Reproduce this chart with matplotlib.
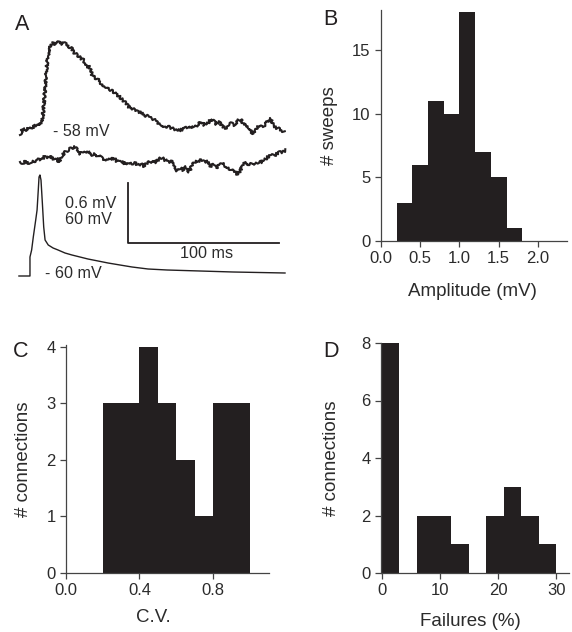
import matplotlib
matplotlib.use("Agg")
import matplotlib.pyplot as plt

plt.rcParams['font.family'] = ['Liberation Sans', 'DejaVu Sans']

# ---- Panel A: example traces (time in ms, voltage in mV) ----
# EPSP sweep, mV relative to -58 mV baseline
epsp_t = [0, 2, 4, 6, 8, 10, 12, 14, 15, 16, 17, 18, 19, 20, 22, 24, 26, 28,
          30, 32, 34, 36, 38, 40, 42, 44, 46, 48, 50, 52, 54, 56, 58, 60, 62,
          64, 66, 68, 70, 72, 74, 76, 78, 80, 82, 84, 86, 88, 90, 92, 94, 96,
          98, 100, 102, 104, 106, 108, 110, 112, 114, 116, 118, 120, 122, 124,
          126, 128, 130, 132, 134, 136, 138, 140, 142, 144, 146, 148, 150, 152,
          154, 156, 158, 160, 162, 164, 166, 168, 170, 172, 174, 175]
epsp_mv = [-0.02, 0.05, 0.02, 0.06, 0.04, 0.08, 0.07, 0.10, 0.15, 0.33, 0.53,
           0.71, 0.81, 0.86, 0.90, 0.89, 0.92, 0.89, 0.90, 0.86, 0.85, 0.80,
           0.78, 0.75, 0.73, 0.67, 0.66, 0.57, 0.55, 0.53, 0.49, 0.47, 0.45,
           0.43, 0.41, 0.38, 0.36, 0.33, 0.30, 0.26, 0.25, 0.23, 0.21, 0.21,
           0.18, 0.17, 0.15, 0.14, 0.12, 0.09, 0.08, 0.06, 0.07, 0.05, 0.04,
           0.02, 0.03, 0.04, 0.06, 0.05, 0.07, 0.06, 0.09, 0.11, 0.08, 0.09,
           0.13, 0.12, 0.09, 0.11, 0.07, 0.05, 0.07, 0.10, 0.08, 0.12, 0.14,
           0.09, 0.07, 0.05, -0.01, 0.04, 0.07, 0.06, 0.08, 0.12, 0.14, 0.07,
           0.05, 0.04, 0.02, 0.01]

# failure sweep, mV relative to its own baseline
fail_t = [0, 2, 4, 6, 8, 10, 12, 14, 16, 18, 20, 22, 24, 26, 28, 30, 32, 34,
          36, 38, 40, 42, 44, 46, 48, 50, 52, 54, 56, 58, 60, 62, 64, 66, 68,
          70, 72, 74, 76, 78, 80, 82, 84, 86, 88, 90, 92, 94, 96, 98, 100, 102,
          104, 106, 108, 110, 112, 114, 116, 118, 120, 122, 124, 126, 128, 130,
          132, 134, 136, 138, 140, 142, 144, 146, 148, 150, 152, 154, 156, 158,
          160, 162, 164, 166, 168, 170, 172, 174, 176]
fail_mv = [-0.02, -0.03, -0.01, -0.04, -0.02, -0.01, 0.01, 0.00, 0.03, 0.02,
           0.04, 0.01, 0.02, -0.02, 0.05, 0.08, 0.10, 0.12, 0.13, 0.11, 0.06,
           0.09, 0.07, 0.08, 0.05, 0.06, 0.03, 0.04, 0.00, 0.01, 0.00, 0.02,
           -0.01, -0.02, -0.01, -0.05, -0.03, -0.04, -0.03, -0.05, -0.04, -0.06,
           -0.03, -0.02, -0.01, -0.02, 0.01, 0.02, 0.00, -0.02, -0.01, -0.04,
           -0.11, -0.08, -0.10, -0.07, -0.12, -0.05, -0.02, -0.01, 0.00, -0.02,
           -0.01, -0.06, -0.05, -0.08, -0.05, -0.03, -0.06, -0.08, -0.10, -0.11,
           -0.15, -0.10, -0.03, -0.03, -0.05, -0.03, -0.04, -0.02, -0.02, 0.00,
           0.03, 0.05, 0.04, 0.06, 0.08, 0.08, 0.10]

# presynaptic action potential, absolute mV
ap_t = [-0.7, 6.6, 6.6, 7.7, 8.8, 10.4, 11.3, 12.1, 12.6, 13.2, 13.9, 14.8,
        15.7, 16.6, 18.7, 21.9, 25.2, 29.8, 34.4, 39.7, 45.0, 51.7, 58.3, 66.2,
        74.2, 84.8, 97.4, 119.2, 141.1, 175.5]
ap_mv = [-60, -60, -41, -34, -21, -4, 6, 26, 39, 41, 36, 13, -11, -24, -29, -32,
         -34, -37, -39, -41, -43, -45, -47, -49, -51, -53, -54, -55, -56, -57]

# ---- Panels B-D: histograms ----
amp_edges = [0.2, 0.4, 0.6, 0.8, 1.0, 1.2, 1.4, 1.6, 1.8]
amp_counts = [3, 6, 11, 10, 18, 7, 5, 1]

cv_edges = [0.2, 0.3, 0.4, 0.5, 0.6, 0.7, 0.8, 0.9, 1.0]
cv_counts = [3, 3, 4, 3, 2, 1, 3, 3]

fail_edges = [0, 3, 6, 9, 12, 15, 18, 21, 24, 27, 30]
fail_counts = [8, 0, 2, 2, 1, 0, 2, 3, 2, 1]

INK = '#231f20'
TXT = '#2b2b2b'
W, H = 572, 632
fig = plt.figure(figsize=(W / 100, H / 100), dpi=100)


def px_axes(left, top, right, bottom):
    return fig.add_axes([left / W, 1 - bottom / H, (right - left) / W, (bottom - top) / H])


# Panel A
axA = px_axes(0, 0, 290, 290)
axA.set_xlim(-13.25, 178.8)
axA.set_ylim(-1.57, 1.33)
axA.axis('off')
# recording noise drawn as a sketch style on the two sweeps
for t, v in [(epsp_t, epsp_mv), (fail_t, [x - 0.27 for x in fail_mv])]:
    ln, = axA.plot(t, v, color=INK, lw=1.5)
    ln.set_sketch_params(scale=1.3, length=2.5, randomness=3)
axA.plot(ap_t, [-1.43 + (v + 60) / 100 for v in ap_mv], color=INK, lw=1.0)
axA.plot([71.5, 71.5, 171.5], [-0.50, -1.10, -1.10], color=INK, lw=1.3)
ts = 11.6
axA.text(21.9, 0.02, '- 58 mV', fontsize=ts, color=TXT, va='center')
axA.text(29.8, -0.70, '0.6 mV', fontsize=ts, color=TXT, va='center')
axA.text(29.8, -0.86, '60 mV', fontsize=ts, color=TXT, va='center')
axA.text(123.8, -1.20, '100 ms', fontsize=ts, color=TXT, va='center', ha='center')
axA.text(16.6, -1.41, '- 60 mV', fontsize=ts, color=TXT, va='center')


def style(ax):
    for s in ['top', 'right']:
        ax.spines[s].set_visible(False)
    for s in ['left', 'bottom']:
        ax.spines[s].set_color('#444444')
        ax.spines[s].set_linewidth(0.9)
    ax.tick_params(direction='out', length=4.5, width=0.9, color='#444444',
                   labelsize=12, labelcolor=TXT, pad=3)


def hist(ax, edges, counts):
    # one filled outline, so neighbouring bins show no seams
    ax.stairs(counts, edges, fill=True, color=INK, linewidth=0, zorder=2)


# Panel B
axB = px_axes(381, 10, 567, 241)
hist(axB, amp_edges, amp_counts)
axB.set_xlim(0, 2.37)
axB.set_ylim(0, 18.16)
axB.set_xticks([0.0, 0.5, 1.0, 1.5, 2.0])
axB.set_xticklabels(['0.0', '0.5', '1.0', '1.5', '2.0'])
axB.set_yticks([0, 5, 10, 15])
style(axB)
axB.set_xlabel('Amplitude (mV)', fontsize=13.5, color=TXT)
axB.set_ylabel('# sweeps', fontsize=13.5, color=TXT)

# Panel C
axC = px_axes(66, 345, 269, 573)
hist(axC, cv_edges, cv_counts)
axC.set_xlim(0, 1.105)
axC.set_ylim(0, 4.035)
axC.set_xticks([0.0, 0.4, 0.8])
axC.set_xticklabels(['0.0', '0.4', '0.8'])
axC.set_yticks([0, 1, 2, 3, 4])
style(axC)
axC.set_xlabel('C.V.', fontsize=13.5, color=TXT)
axC.set_ylabel('# connections', fontsize=13.5, color=TXT)

# Panel D
axD = px_axes(381, 343, 569, 573)
hist(axD, fail_edges, fail_counts)
axD.set_xlim(-0.1, 32.2)
axD.set_ylim(0, 8.0)
axD.set_xticks([0, 10, 20, 30])
axD.set_yticks([0, 2, 4, 6, 8])
style(axD)
axD.set_xlabel('Failures (%)', fontsize=13.5, color=TXT)
axD.set_ylabel('# connections', fontsize=13.5, color=TXT)

# label positions (px -> axes coords)
axB.xaxis.set_label_coords((472 - 381) / 186, -(291 - 241) / 231, transform=axB.transAxes)
axB.yaxis.set_label_coords((330 - 381) / 186, (241 - 126) / 231, transform=axB.transAxes)
axC.xaxis.set_label_coords((153 - 66) / 203, -(618 - 573) / 228, transform=axC.transAxes)
axC.yaxis.set_label_coords((24 - 66) / 203, 0.5, transform=axC.transAxes)
axD.xaxis.set_label_coords((470 - 381) / 188, -(621 - 573) / 230, transform=axD.transAxes)
axD.yaxis.set_label_coords((331 - 381) / 188, 0.5, transform=axD.transAxes)
for ax in (axB, axC, axD):
    ax.xaxis.label.set_va('center')
    ax.yaxis.label.set_va('center')

# panel letters
for letter, x, y in [('A', 15, 30), ('B', 323, 25), ('C', 13, 357), ('D', 323, 357)]:
    fig.text(x / W, 1 - y / H, letter, fontsize=15.5, color=INK, va='baseline', ha='left')

fig.savefig('out.png', dpi=100)
